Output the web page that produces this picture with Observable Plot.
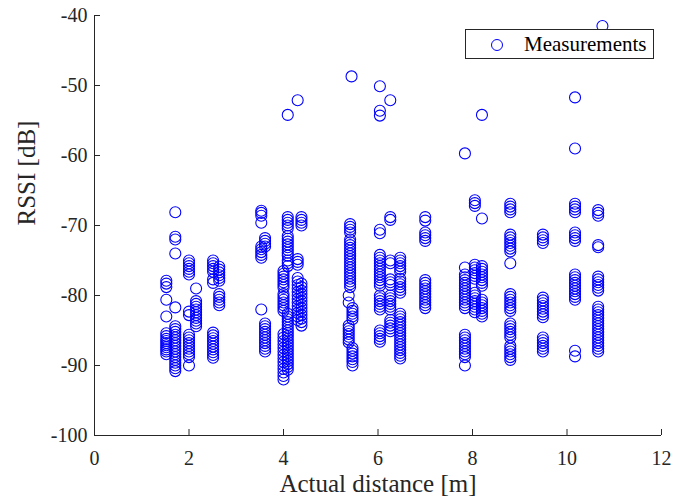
<!DOCTYPE html>
<html><head><meta charset="utf-8">
<script src="https://cdn.jsdelivr.net/npm/d3@7"></script>
<script src="https://cdn.jsdelivr.net/npm/@observablehq/plot@0.6"></script>
<style>
body{margin:0;background:#fff;}
#wrap{position:relative;width:694px;height:502px;}
#legend{position:absolute;left:465px;top:29px;width:189px;height:30px;border:1px solid #262626;background:#fff;box-sizing:border-box;font-family:"Liberation Serif",serif;font-size:21px;color:#000;}
#legend svg{position:absolute;left:24px;top:8px;}
#legend span{position:absolute;left:58px;top:1px;line-height:26px;}
</style></head><body><div id="wrap"></div>
<script>
const xLabel = "Actual distance [m]";
const yLabel = "RSSI [dB]";
const legendLabel = "Measurements";
const xTicks = [0, 2, 4, 6, 8, 10, 12];
const yTicks = [-100, -90, -80, -70, -60, -50, -40];

// measurement distances (one entry per column of circles)
const distances = [1.52, 1.71, 2.0, 2.15, 2.51, 2.64, 3.53, 3.61, 4.0, 4.09, 4.3, 4.38, 5.38, 5.41, 5.46, 5.44,
  6.04, 6.26, 6.47, 7.0, 7.84, 8.05, 8.2, 8.8, 9.49, 10.17, 10.66, 10.75];
// RSSI values measured at each distance
const rssi = [
  [-77.9, -78.3, -78.8, -80.6, -83.0, -85.4, -85.8, -86.2, -86.5, -86.8, -87.1, -87.4, -87.7, -88.0, -88.4],
  [-68.1, -71.6, -72.0, -74.0, -81.7, -84.4, -84.8, -85.2, -85.6, -86.0, -86.4, -86.8, -87.2, -87.6, -88.0, -88.4, -88.8, -89.2, -89.6, -90.0, -90.4, -90.8],
  [-75.0, -75.4, -75.8, -76.2, -76.6, -77.0, -82.3, -82.8, -85.6, -86.0, -86.4, -86.8, -87.2, -87.6, -88.0, -88.4, -88.8, -90.0],
  [-79.0, -80.8, -81.2, -81.6, -82.0, -82.4, -82.8, -83.2, -83.6, -84.0, -84.4],
  [-75.0, -75.4, -75.8, -76.2, -76.6, -77.7, -78.2, -85.3, -85.7, -86.1, -86.5, -86.9, -87.3, -87.7, -88.1, -88.5, -88.9],
  [-75.9, -76.3, -76.7, -77.1, -77.5, -77.9, -79.8, -80.2, -80.6, -81.0, -81.4],
  [-67.9, -68.2, -68.6, -69.6, -73.0, -73.4, -73.8, -74.2, -74.6, -82.0],
  [-71.8, -72.2, -72.6, -73.0, -84.0, -84.4, -84.8, -85.2, -85.6, -86.0, -86.4, -86.8, -87.2, -87.6, -88.0],
  [-76.5, -76.9, -77.3, -77.7, -78.1, -78.5, -78.9, -79.8, -80.2, -80.6, -81.0, -81.4, -81.8, -82.2, -85.5, -86.0, -86.5, -87.0, -87.5, -88.0, -88.5, -89.0, -89.5, -90.0, -90.5, -91.0, -91.5, -92.0],
  [-54.2, -68.8, -69.2, -69.6, -70.0, -70.4, -71.5, -71.9, -72.3, -72.7, -73.1, -73.5, -73.9, -74.3, -75.0, -75.4, -75.8, -82.6, -83.0, -83.4, -83.8, -84.2, -84.6, -85.0, -85.4, -85.8, -86.2, -86.6, -87.0, -87.4, -87.8, -88.2, -88.6, -89.0, -89.4, -89.8, -90.2, -90.6],
  [-52.1, -74.8, -75.2, -75.6, -77.5, -78.0, -78.5, -79.0, -79.5, -80.0, -80.5, -81.0, -81.5, -82.0, -82.5, -83.0, -83.5],
  [-68.8, -69.2, -69.6, -70.0, -78.3, -78.8, -79.3, -79.8, -80.3, -80.8, -81.3, -81.8, -82.3, -82.8, -83.3, -83.8, -84.3],
  [-80.0, -81.0, -84.3, -84.7, -85.1, -85.5, -85.9, -86.3, -86.7],
  [-69.8, -70.2, -70.6, -71.0, -72.0, -72.4, -72.8, -73.2, -73.6, -74.0, -74.4, -74.8, -75.2, -75.6, -76.0, -76.4, -76.8, -77.2, -77.6, -78.0, -78.4, -78.8],
  [-81.8, -82.2, -82.6, -83.0, -83.4, -87.5, -87.9, -88.3, -88.7, -89.1, -89.5, -90.0],
  [-48.7],
  [-50.1, -53.6, -54.3, -70.6, -71.1, -74.2, -74.6, -75.0, -75.4, -75.8, -76.2, -76.6, -77.0, -77.4, -77.8, -78.2, -78.6, -80.0, -80.4, -80.8, -81.2, -81.6, -82.0, -85.0, -85.4, -85.8, -86.2, -86.6],
  [-52.1, -68.8, -69.2, -75.0, -75.4, -77.7, -78.1, -78.5, -80.0, -80.4, -80.8, -81.2, -81.6, -82.0, -83.5, -83.9, -84.3, -84.7, -85.1],
  [-74.6, -75.0, -75.4, -75.8, -76.2, -76.6, -77.6, -78.0, -78.4, -78.8, -79.2, -79.6, -82.6, -83.0, -83.4, -83.8, -84.2, -84.6, -85.0, -85.4, -85.8, -86.2, -86.6, -87.0, -87.4, -87.8, -88.2, -88.6, -89.0],
  [-68.8, -69.3, -71.0, -71.4, -71.8, -72.2, -77.8, -78.2, -78.6, -79.0, -79.4, -79.8, -80.2, -80.6, -81.0, -81.4, -81.8],
  [-59.7, -76.0, -77.0, -77.4, -77.8, -78.2, -78.6, -79.0, -79.4, -79.8, -80.2, -80.6, -81.0, -81.4, -81.8, -85.6, -86.0, -86.4, -86.8, -87.2, -87.6, -88.0, -88.4, -88.8, -90.0],
  [-66.4, -66.8, -67.2, -75.6, -76.0, -76.4, -76.8, -77.2, -77.6, -79.6, -80.0, -80.4, -80.8, -81.2, -81.6, -82.0, -82.4],
  [-54.2, -69.0, -75.8, -76.2, -76.6, -77.0, -77.4, -77.8, -78.2, -78.6, -80.6, -81.0, -81.4, -81.8, -82.2, -82.6, -83.0],
  [-66.9, -67.3, -67.7, -68.1, -71.3, -71.7, -72.1, -72.5, -72.9, -73.3, -73.7, -75.4, -79.8, -80.2, -80.6, -81.0, -81.4, -81.8, -82.2, -84.0, -84.4, -84.8, -85.2, -85.6, -86.0, -87.2, -87.6, -88.0, -88.4, -88.8, -89.2],
  [-71.3, -71.7, -72.1, -72.5, -80.3, -80.7, -81.1, -81.5, -81.9, -82.3, -82.7, -83.1, -86.0, -86.4, -86.8, -87.2, -87.6, -88.0],
  [-51.7, -59.0, -66.9, -67.3, -67.7, -68.1, -71.0, -71.4, -71.8, -72.2, -77.0, -77.4, -77.8, -78.2, -78.6, -79.0, -79.4, -79.8, -80.2, -80.6, -87.9, -88.7],
  [-67.8, -68.2, -68.6, -72.8, -73.1, -77.3, -77.7, -78.1, -78.5, -78.9, -79.3, -81.6, -82.0, -82.4, -82.8, -83.2, -83.6, -84.0, -84.4, -84.8, -85.2, -85.6, -86.0, -86.4, -86.8, -87.2, -87.6, -88.0],
  [-41.5]
];

const points = distances.flatMap((d, i) => rssi[i].map(r => ({d, r})));
const axisColor = "#262626";
const font = "'Liberation Serif', serif";

const plot = Plot.plot({
  width: 694, height: 502,
  marginLeft: 94, marginRight: 33, marginTop: 15, marginBottom: 67,
  style: {fontFamily: font, fontSize: "20px", color: axisColor, background: "white", overflow: "visible"},
  x: {domain: [0, 12]},
  y: {domain: [-100, -40]},
  marks: [
    Plot.dot(points, {x: "d", y: "r", r: 5.5, stroke: "#0000ff", strokeWidth: 1.1, fill: "none"}),
    Plot.ruleX(xTicks, {x: d => d, insetTop: 414, stroke: axisColor}),
    Plot.ruleY(yTicks, {y: d => d, insetRight: 561, stroke: axisColor}),
    Plot.ruleX([0], {stroke: axisColor}),
    Plot.ruleY([-100], {stroke: axisColor}),
    Plot.axisX(xTicks, {tickSize: 0, tickPadding: 15, label: null, tickFormat: d => String(d)}),
    Plot.axisY(yTicks, {tickSize: 0, tickPadding: 7, label: null, tickFormat: d => String(d)}),
    Plot.text([xLabel], {frameAnchor: "bottom", dy: 56, text: d => d, fontSize: 25, fill: axisColor}),
    Plot.text([yLabel], {frameAnchor: "left", dx: -68, rotate: -90, text: d => d, fontSize: 25, fill: axisColor})
  ]
});
const wrap = document.getElementById("wrap");
wrap.appendChild(plot);
const leg = document.createElement("div");
leg.id = "legend";
leg.innerHTML = `<svg width="14" height="14"><circle cx="7" cy="7" r="5.5" fill="none" stroke="#0000ff" stroke-width="1"/></svg><span>${legendLabel}</span>`;
wrap.appendChild(leg);
</script>
</body></html>
